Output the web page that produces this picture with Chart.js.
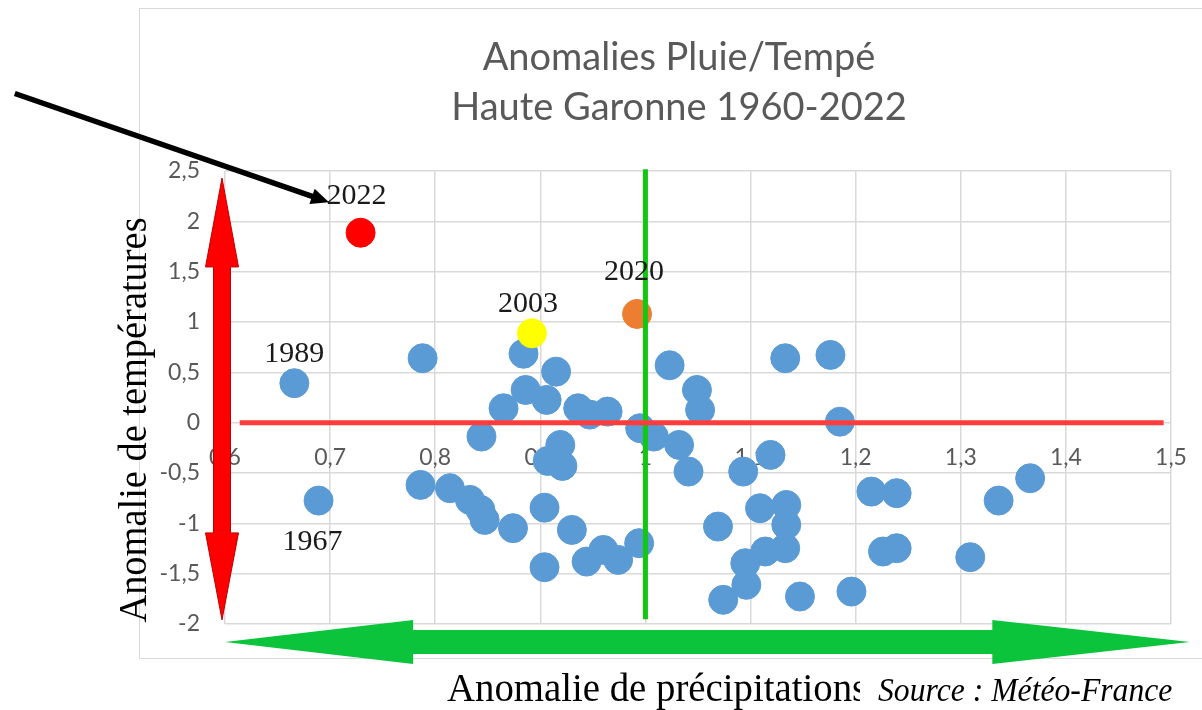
<!DOCTYPE html>
<html>
<head>
<meta charset="utf-8">
<script src="https://cdn.jsdelivr.net/npm/chart.js@4.4.0/dist/chart.umd.min.js"></script>
<style>
  html, body { margin: 0; padding: 0; background: #fff; }
  #wrap { position: relative; width: 1202px; height: 710px; }
</style>
</head>
<body>
<div id="wrap"><canvas id="c" width="1202" height="710"></canvas></div>
<script>
// Anomalies pluie / température - Haute Garonne 1960-2022
const precip = [0.788, 0.884, 0.915, 0.886, 0.865, 0.906, 0.936, 0.947, 0.964, 0.844,
                0.995, 1.008, 0.919, 0.907, 0.921, 1.023, 0.786, 0.814, 0.833, 0.843,
                0.847, 0.874, 0.904, 0.930, 0.904, 0.944, 0.960, 0.974, 0.994, 1.049,
                1.052, 1.133, 1.176, 1.185, 1.032, 1.041, 1.119, 1.093, 1.109, 1.134,
                1.134, 1.133, 1.114, 1.095, 1.096, 1.069, 1.074, 1.147, 1.196, 1.215,
                1.239, 1.226, 1.239, 1.336, 1.366, 1.309, 0.666, 0.689];
const temp = [0.64, 0.685, 0.507, 0.325, 0.143, 0.226, 0.143, 0.08, 0.11, -0.138,
              -0.055, -0.138, -0.221, -0.38, -0.43, 0.57, -0.618, -0.651, -0.767, -0.866,
              -0.966, -1.048, -0.844, -1.065, -1.436, -1.38, -1.264, -1.363, -1.197, 0.325,
              0.127, 0.64, 0.673, 0.01, -0.221, -0.486, -0.32, -0.486, -0.85, -0.817,
              -1.015, -1.247, -1.28, -1.396, -1.611, -1.032, -1.76, -1.727, -1.678, -0.685,
              -0.70, -1.28, -1.247, -0.774, -0.552, -1.336, 0.392, -0.774];

// années mises en évidence
const hotYears = ['2022', '2003', '2020'];
const hotPrecip = [0.729, 0.892, 0.992];
const hotTemp = [1.887, 0.888, 1.08];

// étiquettes d'années
const labelYears = ['2022', '2003', '2020', '1989', '1967'];
const labelPrecip = [0.729, 0.892, 0.992, 0.666, 0.689];
const labelTemp = [1.887, 0.888, 1.08, 0.392, -0.774];

const xTicks = [0.6, 0.7, 0.8, 0.9, 1.0, 1.1, 1.2, 1.3, 1.4, 1.5];
const xTickLabels = ['0,6', '0,7', '0,8', '0,9', '1', '1,1', '1,2', '1,3', '1,4', '1,5'];
const yTicks = [-2, -1.5, -1, -0.5, 0, 0.5, 1, 1.5, 2, 2.5];
const yTickLabels = ['-2', '-1,5', '-1', '-0,5', '0', '0,5', '1', '1,5', '2', '2,5'];

// lignes de référence
const zeroLineX = [0.614, 1.493];   // ligne rouge à y = 0
const oneLineY = [-1.952, 2.517];   // ligne verte à x = 1

const hotColors = { '2022': '#ff0000', '2003': '#ffff00', '2020': '#ed7d31' };
const labelOffsets = { '2022': [-4, -37], '2003': [-4, -29], '2020': [-3, -42], '1989': [0, -29], '1967': [-6, 42] };

const tickFont = { family: 'Lato', size: 23 };

const decor = {
    id: 'decor',
    beforeDraw(chart) {
        const ctx = chart.ctx;
        ctx.save();
        ctx.fillStyle = '#fff';
        ctx.fillRect(0, 0, chart.width, chart.height);
        ctx.strokeStyle = '#d9d9d9';
        ctx.lineWidth = 1;
        ctx.strokeRect(139.5, 8.5, 1070, 650);
        ctx.restore();
    },
    afterDatasetsDraw(chart) {
        const ctx = chart.ctx;
        const xs = chart.scales.x, ys = chart.scales.y;
        ctx.save();
        ctx.fillStyle = '#1a1a1a';
        ctx.font = '30px "Liberation Serif"';
        ctx.textAlign = 'center';
        ctx.textBaseline = 'middle';
        labelYears.forEach((yr, i) => {
            const off = labelOffsets[yr];
            ctx.fillText(yr, xs.getPixelForValue(labelPrecip[i]) + off[0], ys.getPixelForValue(labelTemp[i]) + off[1]);
        });
        ctx.restore();
    },
    afterDraw(chart) {
        const ctx = chart.ctx;
        const xs = chart.scales.x, ys = chart.scales.y;
        const area = chart.chartArea;
        ctx.save();

        // double flèche rouge (verticale)
        const cx = area.left - 3;
        const t = ys.getPixelForValue(2.43), tb = ys.getPixelForValue(1.547);
        const bb = ys.getPixelForValue(-1.095), b = ys.getPixelForValue(-1.959);
        ctx.beginPath();
        ctx.moveTo(cx, t);
        ctx.lineTo(cx + 16.5, tb); ctx.lineTo(cx + 8.5, tb);
        ctx.lineTo(cx + 8.5, bb); ctx.lineTo(cx + 16.5, bb);
        ctx.lineTo(cx, b);
        ctx.lineTo(cx - 16.5, bb); ctx.lineTo(cx - 8.5, bb);
        ctx.lineTo(cx - 8.5, tb); ctx.lineTo(cx - 16.5, tb);
        ctx.closePath();
        ctx.fillStyle = '#ff0000';
        ctx.fill();
        ctx.strokeStyle = '#c00000';
        ctx.lineWidth = 1;
        ctx.stroke();

        // double flèche verte (horizontale)
        const cy = area.bottom + 18;
        const l = xs.getPixelForValue(0.6), lb = xs.getPixelForValue(0.779);
        const rb = xs.getPixelForValue(1.330), r = xs.getPixelForValue(1.518);
        ctx.beginPath();
        ctx.moveTo(l, cy);
        ctx.lineTo(lb, cy - 22); ctx.lineTo(lb, cy - 12);
        ctx.lineTo(rb, cy - 12); ctx.lineTo(rb, cy - 22);
        ctx.lineTo(r, cy);
        ctx.lineTo(rb, cy + 22); ctx.lineTo(rb, cy + 12);
        ctx.lineTo(lb, cy + 12); ctx.lineTo(lb, cy + 22);
        ctx.closePath();
        ctx.fillStyle = '#0cc43c';
        ctx.fill();

        // flèche noire vers 2022
        const x0 = xs.getPixelForValue(0.40), y0 = ys.getPixelForValue(3.27);
        const x1 = xs.getPixelForValue(0.699), y1 = ys.getPixelForValue(2.19);
        const ang = Math.atan2(y1 - y0, x1 - x0);
        ctx.strokeStyle = '#000';
        ctx.lineWidth = 5.5;
        ctx.beginPath();
        ctx.moveTo(x0, y0);
        ctx.lineTo(x1 - 14 * Math.cos(ang), y1 - 14 * Math.sin(ang));
        ctx.stroke();
        ctx.beginPath();
        ctx.moveTo(x1, y1);
        ctx.lineTo(x1 - 18 * Math.cos(ang) + 8 * Math.sin(ang), y1 - 18 * Math.sin(ang) - 8 * Math.cos(ang));
        ctx.lineTo(x1 - 18 * Math.cos(ang) - 8 * Math.sin(ang), y1 - 18 * Math.sin(ang) + 8 * Math.cos(ang));
        ctx.closePath();
        ctx.fillStyle = '#000';
        ctx.fill();

        // titre
        ctx.fillStyle = '#595959';
        ctx.font = '38px Lato';
        ctx.textAlign = 'center';
        ctx.textBaseline = 'middle';
        ctx.fillText('Anomalies Pluie/Tempé', 679, 58);
        ctx.fillText('Haute Garonne 1960-2022', 679, 108);

        // titres des axes
        ctx.fillStyle = '#000';
        ctx.font = '40px "Liberation Serif"';
        ctx.save();
        ctx.translate(135, 420);
        ctx.rotate(-Math.PI / 2);
        ctx.scale(0.96, 1);
        ctx.fillText('Anomalie de températures', 0, 0);
        ctx.restore();
        ctx.save();
        ctx.textAlign = 'left';
        ctx.translate(447, 690);
        ctx.scale(0.97, 1);
        ctx.fillText('Anomalie de précipitations', 0, 0);
        ctx.restore();

        // source (cache la fin du titre de l'axe, comme sur l'original)
        ctx.fillStyle = '#fff';
        ctx.fillRect(860, 668, 342, 42);
        ctx.fillStyle = '#000';
        ctx.textAlign = 'left';
        ctx.font = 'italic 33px "Liberation Serif"';
        ctx.save();
        ctx.translate(878, 692);
        ctx.scale(0.96, 1);
        ctx.fillText('Source : Météo-France', 0, 0);
        ctx.restore();
        ctx.restore();
    }
};

const blueData = precip.map((x, i) => ({ x: x, y: temp[i] }));
const hotSets = hotYears.map((yr, i) => ({
    label: yr,
    data: [{ x: hotPrecip[i], y: hotTemp[i] }],
    backgroundColor: hotColors[yr],
    borderColor: hotColors[yr],
    borderWidth: 1,
    pointRadius: 14.5,
    order: 1,
    clip: false
}));

new Chart(document.getElementById('c'), {
    type: 'scatter',
    data: {
        datasets: [
            {
                label: 'zero',
                type: 'line',
                data: zeroLineX.map(v => ({ x: v, y: 0 })),
                borderColor: '#ff3b3b',
                borderWidth: 5,
                pointRadius: 0,
                order: 0,
                clip: false
            },
            {
                label: 'un',
                type: 'line',
                data: oneLineY.map(v => ({ x: 1, y: v })),
                borderColor: '#11c811',
                borderWidth: 5,
                pointRadius: 0,
                order: 0,
                clip: false
            },
            ...hotSets,
            {
                label: 'Années',
                data: blueData,
                backgroundColor: '#5b9bd5',
                borderColor: '#5b9bd5',
                borderWidth: 1,
                pointRadius: 14.5,
                order: 2,
                clip: false
            }
        ]
    },
    options: {
        responsive: false,
        animation: false,
        devicePixelRatio: 1,
        layout: { padding: { left: 125, right: 31, top: 171, bottom: 86 } },
        plugins: { legend: { display: false }, tooltip: { enabled: false } },
        scales: {
            x: {
                type: 'linear',
                min: 0.6,
                max: 1.5,
                position: { y: 0 },
                afterBuildTicks: axis => { axis.ticks = xTicks.map(v => ({ value: v })); },
                afterFit: axis => { axis.paddingLeft = 0; axis.paddingRight = 0; },
                ticks: {
                    callback: (v, i) => xTickLabels[i],
                    font: tickFont,
                    color: '#595959',
                    padding: 21,
                    autoSkip: false,
                    maxRotation: 0
                },
                grid: { color: '#d9d9d9', lineWidth: 1.5, drawTicks: false },
                border: { display: false }
            },
            y: {
                type: 'linear',
                min: -2,
                max: 2.5,
                afterBuildTicks: axis => { axis.ticks = yTicks.map(v => ({ value: v })); },
                afterFit: axis => { axis.width = 100; },
                ticks: {
                    callback: (v, i) => yTickLabels[i],
                    font: tickFont,
                    color: '#595959',
                    padding: 25,
                    autoSkip: false
                },
                grid: { color: '#d9d9d9', lineWidth: 1.5, drawTicks: false },
                border: { display: false }
            }
        }
    },
    plugins: [decor]
});
</script>
</body>
</html>
